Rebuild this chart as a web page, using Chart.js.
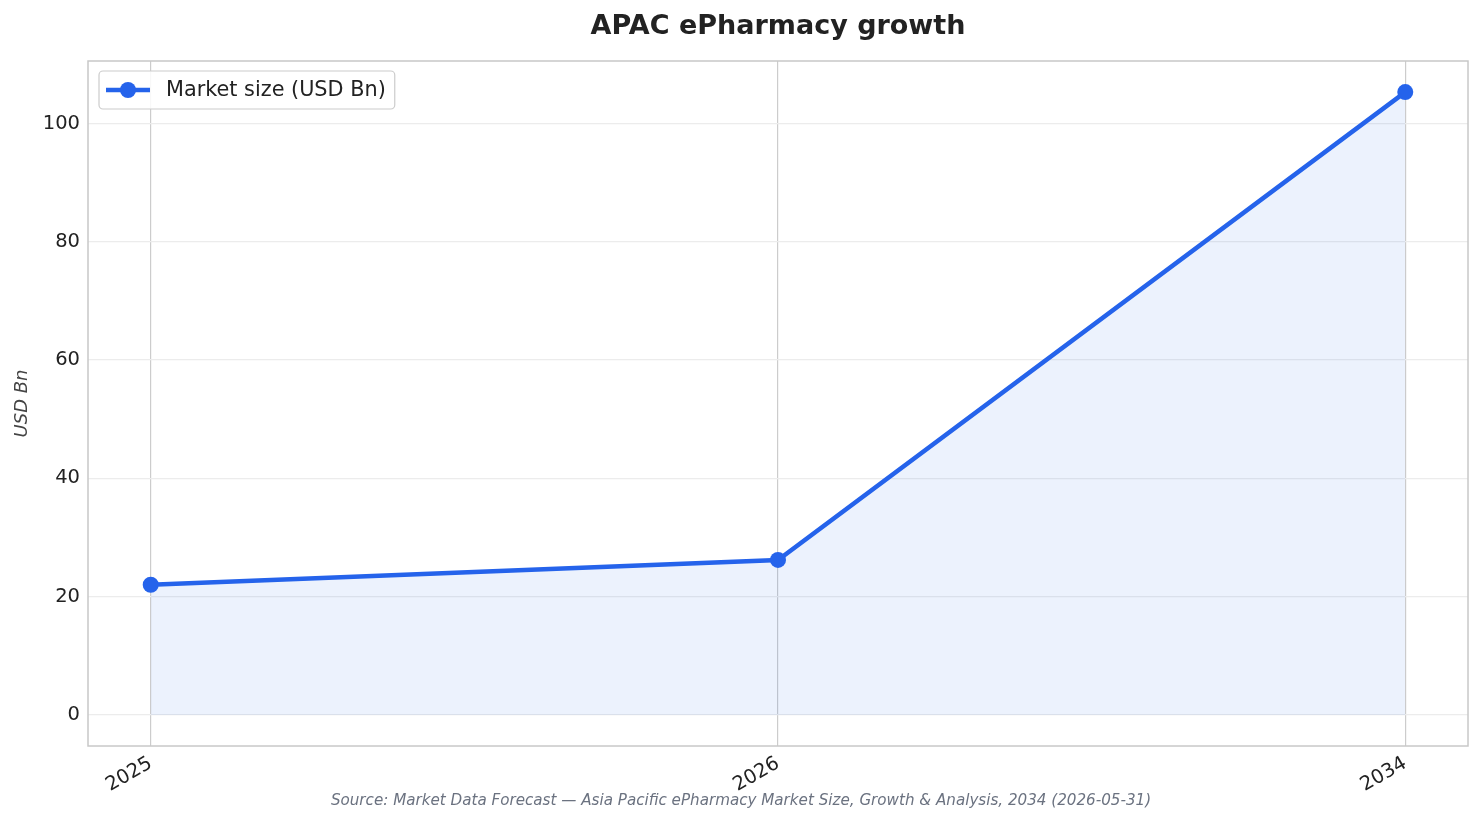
<!DOCTYPE html>
<html>
<head>
<meta charset="utf-8">
<script src="https://cdn.jsdelivr.net/npm/chart.js@4"></script>
<style>
  html, body { margin: 0; padding: 0; background: #fff; }
  #wrap { width: 1483px; height: 824px; position: relative; }
</style>
</head>
<body>
<div id="wrap"><canvas id="Chart"></canvas></div>
<script>
const years = ['2025', '2026', '2034'];
const marketSize = [22.0, 26.2, 105.3];
const yTicks = [0, 20, 40, 60, 80, 100];
const seriesLabel = 'Market size (USD Bn)';
const titleText = 'APAC ePharmacy growth';
const sourceText = 'Source: Market Data Forecast \u2014 Asia Pacific ePharmacy Market Size, Growth & Analysis, 2034 (2026-05-31)';

const font = 'DejaVu Sans';
const lineColor = '#2563eb';

// title over the plot, frame round it, legend inside it, source line under it
const extras = {
    id: 'extras',
    afterDraw(chart) {
        const c = chart.ctx;
        const a = chart.chartArea;
        c.save();
        c.strokeStyle = '#c8c8c8';
        c.lineWidth = 1.5;
        c.strokeRect(a.left, a.top, a.right - a.left, a.bottom - a.top);

        c.font = 'bold 27px "' + font + '"';
        c.fillStyle = '#222';
        c.textAlign = 'center';
        c.textBaseline = 'middle';
        c.fillText(titleText, (a.left + a.right) / 2, 27);

        // legend
        c.font = '20.8px "' + font + '"';
        const tw = c.measureText(seriesLabel).width;
        const bx = a.left + 11, by = a.top + 10, bh = 38;
        const bw = 67 + tw + 9;
        c.fillStyle = 'rgba(255,255,255,0.85)';
        c.strokeStyle = '#cccccc';
        c.lineWidth = 1.2;
        c.beginPath();
        c.roundRect(bx, by, bw, bh, 4);
        c.fill();
        c.stroke();
        const ly = by + bh / 2;
        c.strokeStyle = lineColor;
        c.lineWidth = 4.5;
        c.beginPath();
        c.moveTo(bx + 7, ly);
        c.lineTo(bx + 51, ly);
        c.stroke();
        c.fillStyle = lineColor;
        c.beginPath();
        c.arc(bx + 29, ly, 8, 0, Math.PI * 2);
        c.fill();
        c.fillStyle = '#222';
        c.textAlign = 'left';
        c.fillText(seriesLabel, bx + 67, ly + 1);

        // source
        c.font = 'italic 15.15px "' + font + '"';
        c.fillStyle = '#6b7280';
        c.textAlign = 'center';
        c.fillText(sourceText, 741, 801);
        c.restore();
    }
};

const ctx = document.getElementById('Chart').getContext('2d');
const chart = new Chart(ctx, {
    type: 'line',
    data: {
        datasets: [{
            label: seriesLabel,
            data: marketSize.map((v, i) => ({ x: i, y: v })),
            borderColor: lineColor,
            borderWidth: 4.5,
            pointRadius: 8,
            pointHoverRadius: 8,
            pointBackgroundColor: lineColor,
            pointBorderWidth: 0,
            fill: 'origin',
            backgroundColor: 'rgba(37, 99, 235, 0.085)',
            tension: 0
        }]
    },
    options: {
        responsive: true,
        maintainAspectRatio: false,
        animation: false,
        layout: { padding: { left: 0, right: 15, top: 61, bottom: 0 } },
        plugins: {
            legend: { display: false },
            tooltip: { enabled: false },
            title: { display: false }
        },
        scales: {
            x: {
                type: 'linear',
                min: -0.1,
                max: 2.1,
                afterBuildTicks(scale) {
                    scale.ticks = years.map((y, i) => ({ value: i }));
                },
                afterFit(scale) { scale.height = 78; },
                ticks: {
                    callback: (v) => years[v],
                    color: '#222',
                    font: { family: font, size: 19.5 },
                    minRotation: 30,
                    maxRotation: 30,
                    padding: 6
                },
                grid: { color: '#cccccc', lineWidth: 1.2, drawTicks: false },
                border: { display: false }
            },
            y: {
                min: -5.26,
                max: 110.56,
                afterBuildTicks(scale) {
                    scale.ticks = yTicks.map(v => ({ value: v }));
                },
                afterFit(scale) { scale.width = 88; },
                ticks: {
                    color: '#222',
                    font: { family: font, size: 19.5 },
                    padding: 8
                },
                grid: { color: '#ececec', lineWidth: 1.2, drawTicks: false },
                border: { display: false },
                title: {
                    display: true,
                    text: 'USD Bn',
                    color: '#444',
                    font: { family: font, size: 18, style: 'italic' },
                    padding: { top: 12, bottom: 4 }
                }
            }
        }
    },
    plugins: [extras]
});
</script>
</body>
</html>
